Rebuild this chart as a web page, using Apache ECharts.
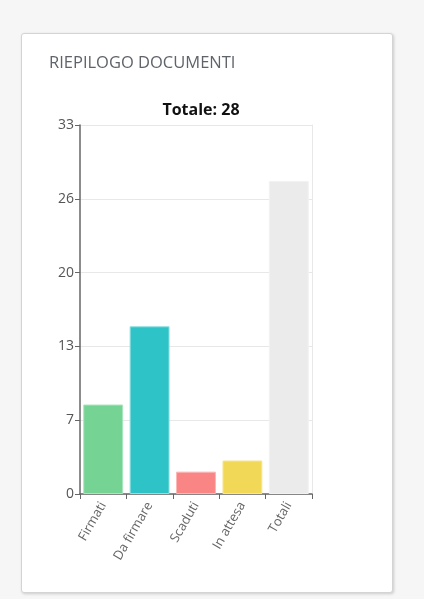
<!DOCTYPE html>
<html>
<head>
<meta charset="utf-8">
<script src="https://cdn.jsdelivr.net/npm/echarts@6/dist/echarts.min.js"></script>
<style>
  html, body { margin: 0; padding: 0; background: #f6f6f6; width: 424px; height: 599px; overflow: hidden; }
  #card { position: absolute; left: 21px; top: 33px; width: 370px; height: 558px; background: #fff;
          border: 1px solid #d4d4d4; border-radius: 3px; box-shadow: 1px 1px 3px rgba(0,0,0,0.18); }
  #chart { position: absolute; left: 0; top: 0; width: 424px; height: 599px; }
</style>
</head>
<body>
<div id="card"></div>
<div id="chart"></div>
<script>
const panelTitle = "RIEPILOGO DOCUMENTI";
const chartTitle = "Totale: 28";
const categories = ["Firmati", "Da firmare", "Scaduti", "In attesa", "Totali"];
const values = [8, 15, 2, 3, 28];
const barColors = ["#75d394", "#2ec3c6", "#fa8585", "#f2d857", "#ebebeb"];
const borderColors = ["#a8e6bd", "#8fe0e1", "#fcb6b6", "#f7e69a", "#f2f2f2"];
const yMax = 33;
const yStep = 6.6;

const FONT = "'Open Sans', sans-serif";
const chart = echarts.init(document.getElementById('chart'), null, { renderer: 'canvas' });
chart.setOption({
  animation: false,
  title: [
    { text: panelTitle, left: 44, top: 50, textStyle: { fontFamily: FONT, fontSize: 16.5, fontWeight: 500, color: '#5f646b' } },
    { text: chartTitle, left: 196, top: 97, textAlign: 'center', textStyle: { fontFamily: FONT, fontSize: 16, fontWeight: 'bold', color: '#111' } }
  ],
  grid: { left: 80, top: 125, width: 232, height: 369, containLabel: false },
  xAxis: {
    type: 'category',
    data: categories,
    axisLine: { lineStyle: { color: '#666', width: 1.5 } },
    axisTick: { show: true, length: 5, lineStyle: { color: '#666' }, alignWithLabel: false },
    axisLabel: { rotate: 60, color: '#666', fontFamily: FONT, fontSize: 13, margin: 9, interval: 0 },
    splitLine: { show: false }
  },
  yAxis: [{
    type: 'value',
    min: 0, max: yMax, interval: yStep,
    axisLine: { show: true, lineStyle: { color: '#666', width: 1.5 } },
    axisTick: { show: true, length: 5, lineStyle: { color: '#666' } },
    axisLabel: { color: '#555', fontFamily: FONT, fontSize: 14, margin: 6, formatter: v => String(Math.round(v)) },
    splitLine: { show: true, lineStyle: { color: '#e8e8e8', width: 1 } }
  }, {
    type: 'value', position: 'right',
    min: 0, max: yMax, interval: yStep,
    axisLine: { show: true, lineStyle: { color: '#e8e8e8', width: 1 } },
    axisTick: { show: false }, axisLabel: { show: false }, splitLine: { show: false }
  }],
  series: [{
    type: 'bar',
    data: values.map((v, i) => ({ value: v, itemStyle: { color: barColors[i], borderColor: borderColors[i], borderWidth: 1 } })),
    barCategoryGap: '14%'
  }]
});
</script>
</body>
</html>
